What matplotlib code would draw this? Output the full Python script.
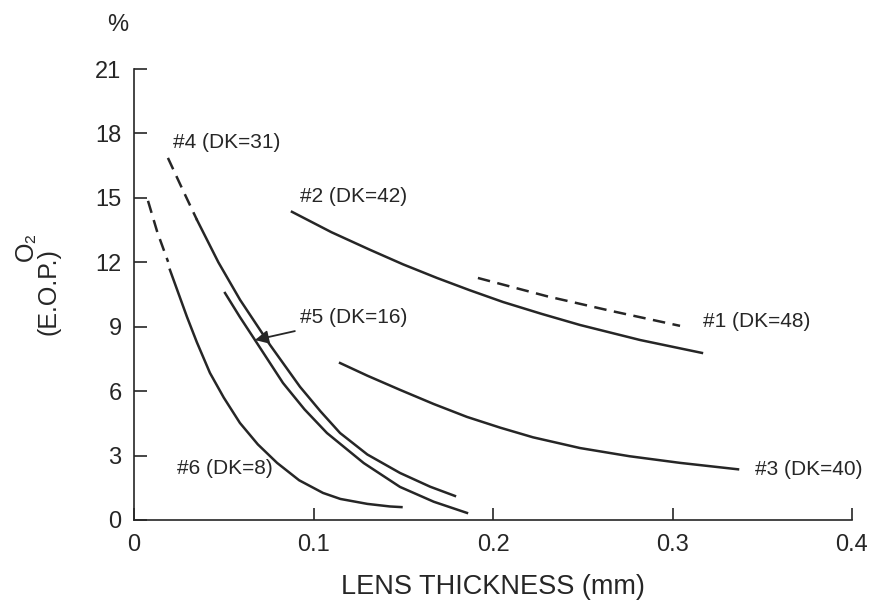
import matplotlib
matplotlib.use("Agg")
import matplotlib.pyplot as plt

plt.rcParams['font.family'] = ['Liberation Sans', 'DejaVu Sans']

# lens thickness (mm) vs O2 (E.O.P., %)
c1_x = [0.1916, 0.230, 0.265, 0.3042]
c1_y = [11.27, 10.42, 9.75, 9.04]

c2_x = [0.088, 0.110, 0.1315, 0.150, 0.1688, 0.1870, 0.2056, 0.2270, 0.2485, 0.282, 0.3164]
c2_y = [14.35, 13.40, 12.58, 11.90, 11.27, 10.70, 10.15, 9.60, 9.08, 8.38, 7.78]

c3_x = [0.1148, 0.130, 0.1482, 0.1670, 0.1855, 0.2040, 0.2223, 0.2485, 0.2760, 0.3042, 0.3365]
c3_y = [7.31, 6.72, 6.06, 5.40, 4.80, 4.30, 3.85, 3.35, 2.97, 2.66, 2.36]

c4_dash_x = [0.0189, 0.027, 0.0351]
c4_dash_y = [16.86, 15.40, 13.97]
c4_x = [0.0351, 0.047, 0.0591, 0.0758, 0.0925, 0.104, 0.1148, 0.130, 0.1482, 0.165, 0.1788]
c4_y = [13.97, 12.00, 10.25, 8.15, 6.20, 5.05, 4.05, 3.05, 2.19, 1.55, 1.12]

c5_x = [0.0507, 0.059, 0.0674, 0.083, 0.095, 0.1075, 0.128, 0.1482, 0.167, 0.1855]
c5_y = [10.57, 9.45, 8.38, 6.38, 5.15, 4.05, 2.65, 1.54, 0.85, 0.33]

c6_dash_x = [0.0078, 0.013, 0.019]
c6_dash_y = [14.86, 13.40, 12.02]
c6_x = [0.020, 0.0295, 0.035, 0.0423, 0.050, 0.059, 0.069, 0.0797, 0.092, 0.1053,
        0.115, 0.130, 0.1426, 0.149]
c6_y = [11.65, 9.46, 8.28, 6.85, 5.70, 4.52, 3.52, 2.66, 1.85, 1.26,
        0.98, 0.75, 0.63, 0.60]

labels = ["#1 (DK=48)", "#2 (DK=42)", "#3 (DK=40)", "#4 (DK=31)", "#5 (DK=16)", "#6 (DK=8)"]
label_xy = [(0.317, 9.22), (0.0925, 15.05), (0.346, 2.33), (0.0217, 17.56), (0.0925, 9.41), (0.024, 2.42)]

x_ticks = [0, 0.1, 0.2, 0.3, 0.4]
x_ticklabels = ["0", "0.1", "0.2", "0.3", "0.4"]
y_ticks = [0, 3, 6, 9, 12, 15, 18, 21]

ink = '#262626'
lw = 1.8

fig = plt.figure(figsize=(8.74, 6.03), dpi=100)
ax = fig.add_axes([134 / 874, 1 - 520 / 603, 718 / 874, 451 / 603])

dash = (0, (5, 3))
ax.plot(c1_x, c1_y, color=ink, lw=lw, ls=dash, clip_on=False)
ax.plot(c2_x, c2_y, color=ink, lw=lw, clip_on=False)
ax.plot(c3_x, c3_y, color=ink, lw=lw, clip_on=False)
ax.plot(c4_dash_x, c4_dash_y, color=ink, lw=lw, ls=dash, clip_on=False)
ax.plot(c4_x, c4_y, color=ink, lw=lw, clip_on=False)
ax.plot(c5_x, c5_y, color=ink, lw=lw, clip_on=False)
ax.plot(c6_dash_x, c6_dash_y, color=ink, lw=lw, ls=dash, clip_on=False)
ax.plot(c6_x, c6_y, color=ink, lw=lw, clip_on=False)

for i, (txt, (tx, ty)) in enumerate(zip(labels, label_xy)):
    if i == 4:
        ax.annotate(txt, xy=(c5_x[2], c5_y[2]), xytext=(tx, ty),
                    fontsize=15, color=ink, va='center', ha='left',
                    arrowprops=dict(arrowstyle='-|>', color=ink, lw=1.3,
                                    mutation_scale=20, shrinkA=3, shrinkB=0))
    else:
        ax.text(tx, ty, txt, fontsize=15, color=ink, va='center', ha='left')

ax.set_xlim(0, 0.4)
ax.set_ylim(0, 21)
ax.set_xticks(x_ticks)
ax.set_xticklabels(x_ticklabels)
ax.set_yticks(y_ticks)
ax.tick_params(direction='in', length=9, width=1.2, colors=ink, labelsize=17)
ax.tick_params(axis='y', pad=9)
ax.tick_params(axis='x', pad=10)
for s in ['top', 'right']:
    ax.spines[s].set_visible(False)
for s in ['left', 'bottom']:
    ax.spines[s].set_linewidth(1.2)
    ax.spines[s].set_color(ink)

ax.set_xlabel("LENS THICKNESS (mm)", fontsize=19.5, color=ink, labelpad=13)
fig.text(118 / 874, 1 - 25 / 603, "%", fontsize=17, color=ink, ha='center', va='center')
fig.text(26 / 874, 1 - 246 / 603, "O\u2082", fontsize=18, color=ink, rotation=90,
         ha='center', va='center')
fig.text(48 / 874, 1 - 292 / 603, "(E.O.P.)", fontsize=18, color=ink, rotation=90,
         ha='center', va='center')

fig.savefig("out.png", dpi=100, facecolor='white')
